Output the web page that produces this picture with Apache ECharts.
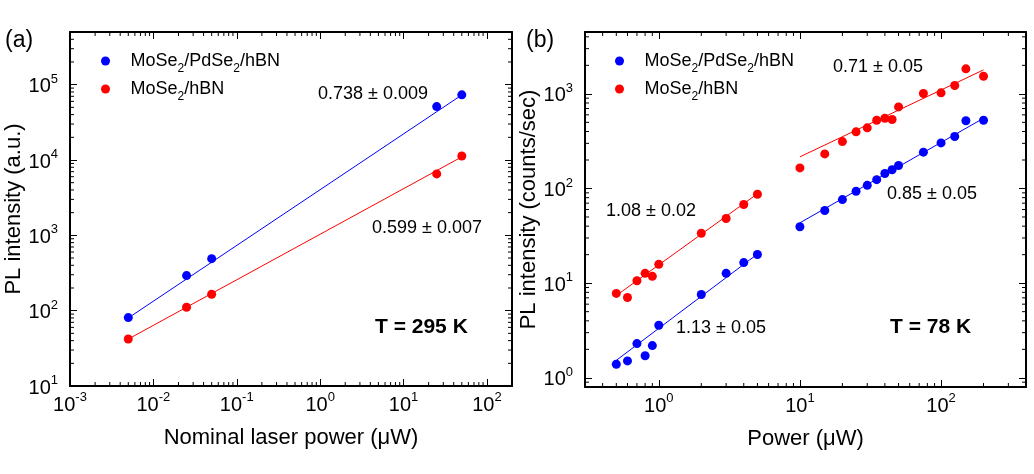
<!DOCTYPE html>
<html>
<head>
<meta charset="utf-8">
<script src="https://cdn.jsdelivr.net/npm/echarts@6/dist/echarts.min.js"></script>
<style>
    html, body { margin: 0; padding: 0; background: #fff; }
    #chart { width: 1034px; height: 474px; }
</style>
</head>
<body>
<div id="chart"></div>
<script>
    // (a) T = 295 K
    const powerA = [0.005, 0.025, 0.05, 25, 50];
    const pdseA = [81, 292, 490, 51200, 73300];
    const hbnA = [42, 111, 165, 6530, 11300];
    const fitPdseA = [[0.005, 80], [50, 73000]];
    const fitHbnA = [[0.005, 42], [50, 11000]];

    // (b) T = 78 K
    const powerB = [0.5, 0.6, 0.7, 0.8, 0.9, 1, 2, 3, 4, 5, 10, 15, 20, 25, 30, 35, 40, 45, 50, 75, 100, 125, 150, 200];
    const pdseB = [1.39, 1.51, 2.30, 1.71, 2.19, 3.59, 7.6, 12.7, 16.5, 20.1, 39.4, 58.5, 76.4, 93.5, 108, 124, 144, 158, 175, 242, 303, 354, 519, 526];
    const hbnB = [7.8, 7.05, 10.6, 12.7, 11.8, 15.8, 33.7, 48.2, 67.7, 87, 165, 232, 313, 397, 437, 526, 552, 535, 728, 1007, 1024, 1224, 1836, 1535];
    const fitPdseBLow = [[0.5, 1.53], [5, 20.3]];
    const fitHbnBLow = [[0.5, 7.4], [5, 88]];
    const fitPdseBHigh = [[10, 43.4], [200, 552]];
    const fitHbnBHigh = [[10, 216], [200, 1790]];

    // axis ranges
    const xRangeA = [0.001, 200];
    const yRangeA = [10, 500000];
    const xRangeB = [0.3, 400];
    const yRangeB = [0.8, 4500];
    const minorMult = [2, 3, 4, 5, 6, 7, 8, 9];

    const FONT = '"Liberation Sans", Arial, sans-serif';
    const BLUE = '#0000ff';
    const RED = '#ff0000';

    function minorTicks(range) {
        let out = [];
        let d0 = Math.floor(Math.log10(range[0]));
        let d1 = Math.ceil(Math.log10(range[1]));
        for (let d = d0; d <= d1; d++) {
            minorMult.forEach(m => {
                let v = m * Math.pow(10, d);
                if (v > range[0] * 1.0001 && v < range[1] * 0.9999) out.push(v);
            });
        }
        return out;
    }

    function decadeLabel(v) {
        let l = Math.log10(v);
        let e = Math.round(l);
        if (Math.abs(l - e) > 1e-6) return '';
        return '{b|10}{s|' + e + '}';
    }

    const labelRich = {
        b: { fontSize: 20, fontFamily: FONT, color: '#000', lineHeight: 24, verticalAlign: 'bottom' },
        s: { fontSize: 13, fontFamily: FONT, color: '#000', verticalAlign: 'top', lineHeight: 14 }
    };

    function logAxis(grid, pos, range, name, nameGap, main, margin) {
        return {
            type: 'log', logBase: 10, gridIndex: grid, position: pos,
            min: range[0], max: range[1],
            name: main ? name : '', nameLocation: 'middle', nameGap: nameGap,
            nameTextStyle: { fontSize: 22, fontFamily: FONT, color: '#000' },
            axisLine: { show: true, onZero: false, lineStyle: { color: '#000', width: 2 } },
            axisTick: { show: true, inside: true, length: 7, lineStyle: { color: '#000', width: 1 } },
            axisLabel: { show: main, formatter: decadeLabel, rich: labelRich, margin: margin || 6,
                         fontSize: 20, fontFamily: FONT, color: '#000', showMinLabel: true, showMaxLabel: true },
            minorTick: { show: false },
            splitLine: { show: false }
        };
    }

    function xMinorRender(params, api) {
        let cs = params.coordSys;
        let px = api.coord([api.value(0), api.value(1)])[0];
        let st = { stroke: '#000', lineWidth: 1 };
        return { type: 'group', children: [
            { type: 'line', shape: { x1: px, y1: cs.y + cs.height, x2: px, y2: cs.y + cs.height - 4 }, style: st },
            { type: 'line', shape: { x1: px, y1: cs.y, x2: px, y2: cs.y + 4 }, style: st }
        ] };
    }
    function yMinorRender(params, api) {
        let cs = params.coordSys;
        let py = api.coord([api.value(0), api.value(1)])[1];
        let st = { stroke: '#000', lineWidth: 1 };
        return { type: 'group', children: [
            { type: 'line', shape: { x1: cs.x, y1: py, x2: cs.x + 4, y2: py }, style: st },
            { type: 'line', shape: { x1: cs.x + cs.width, y1: py, x2: cs.x + cs.width - 4, y2: py }, style: st }
        ] };
    }

    function scatter(name, grid, xs, ys, color) {
        return {
            type: 'scatter', name: name, xAxisIndex: grid * 2, yAxisIndex: grid * 2,
            data: xs.map((x, i) => [x, ys[i]]),
            symbol: 'circle', symbolSize: 9, itemStyle: { color: color, opacity: 1 }, z: 5, silent: true
        };
    }
    function fitLine(grid, pts, color) {
        return {
            type: 'line', name: 'fit', xAxisIndex: grid * 2, yAxisIndex: grid * 2,
            data: pts, showSymbol: false, symbol: 'none', silent: true,
            lineStyle: { color: color, width: 1 }, z: 3
        };
    }
    function minorSeries(grid, xr, yr) {
        return [
            { type: 'custom', xAxisIndex: grid * 2, yAxisIndex: grid * 2, silent: true, z: 10,
              renderItem: xMinorRender, data: minorTicks(xr).map(v => [v, yr[0]]) },
            { type: 'custom', xAxisIndex: grid * 2, yAxisIndex: grid * 2, silent: true, z: 10,
              renderItem: yMinorRender, data: minorTicks(yr).map(v => [xr[0], v]) }
        ];
    }

    const NAME1 = 'MoSe2/PdSe2/hBN';
    const NAME2 = 'MoSe2/hBN';
    function legendFmt(n) {
        return n.split('2').map(p => '{t|' + p + '}').join('{sub|2}');
    }
    function legend(left) {
        return {
            data: [NAME1, NAME2], orient: 'vertical', left: left, top: 47,
            icon: 'circle', itemWidth: 40, itemHeight: 9, itemGap: 5,
            selectedMode: false, formatter: legendFmt,
            itemStyle: { opacity: 1 },
            textStyle: { rich: {
                t: { fontSize: 18, fontFamily: FONT, color: '#000' },
                sub: { fontSize: 12, fontFamily: FONT, color: '#000', verticalAlign: 'bottom', padding: [0, 0, -5, 0] }
            } }
        };
    }

    function txt(left, top, s, size, bold) {
        return { type: 'text', left: left, top: top, silent: true,
                 style: { text: s, font: (bold ? 'bold ' : '') + size + 'px ' + FONT, fill: '#000' } };
    }

    const chart = echarts.init(document.getElementById('chart'));
    chart.setOption({
        animation: false,
        backgroundColor: '#fff',
        grid: [
            { left: 70, top: 32, width: 442, height: 354 },
            { left: 585, top: 32, width: 441, height: 355 }
        ],
        xAxis: [
            logAxis(0, 'bottom', xRangeA, 'Nominal laser power (μW)', 41, true, 5),
            logAxis(0, 'top', xRangeA, '', 0, false),
            logAxis(1, 'bottom', xRangeB, 'Power (μW)', 41, true, 5),
            logAxis(1, 'top', xRangeB, '', 0, false)
        ],
        yAxis: [
            logAxis(0, 'left', yRangeA, 'PL intensity (a.u.)', 34, true, 12),
            logAxis(0, 'right', yRangeA, '', 0, false),
            logAxis(1, 'left', yRangeB, 'PL intensity (counts/sec)', 38, true, 12),
            logAxis(1, 'right', yRangeB, '', 0, false)
        ],
        legend: [legend(96), legend(610)],
        series: [
            fitLine(0, fitPdseA, BLUE),
            fitLine(0, fitHbnA, RED),
            scatter(NAME1, 0, powerA, pdseA, BLUE),
            scatter(NAME2, 0, powerA, hbnA, RED),
            fitLine(1, fitPdseBLow, BLUE),
            fitLine(1, fitHbnBLow, RED),
            fitLine(1, fitPdseBHigh, BLUE),
            fitLine(1, fitHbnBHigh, RED),
            scatter(NAME1, 1, powerB, pdseB, BLUE),
            scatter(NAME2, 1, powerB, hbnB, RED)
        ].concat(minorSeries(0, xRangeA, yRangeA), minorSeries(1, xRangeB, yRangeB)),
        graphic: [
            txt(5, 29, '(a)', 23, false),
            txt(526, 29, '(b)', 23, false),
            txt(318, 85, '0.738 ± 0.009', 18, false),
            txt(372, 219, '0.599 ± 0.007', 18, false),
            txt(375, 317, 'T = 295 K', 21, true),
            txt(833, 58, '0.71 ± 0.05', 18, false),
            txt(887, 185, '0.85 ± 0.05', 18, false),
            txt(606, 202, '1.08 ± 0.02', 18, false),
            txt(676, 319, '1.13 ± 0.05', 18, false),
            txt(890, 317, 'T = 78 K', 21, true)
        ]
    });
</script>
</body>
</html>
